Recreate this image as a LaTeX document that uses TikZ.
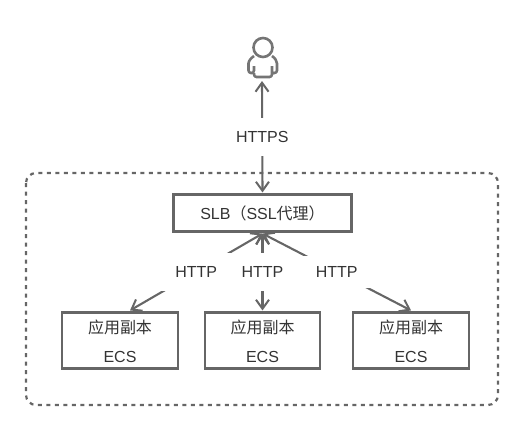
\documentclass[tikz,border=0pt]{standalone}
\usepackage{fontspec}
\setmainfont{Liberation Sans}
\newfontfamily\cjk{Noto Sans CJK SC}
\usetikzlibrary{arrows.meta,calc}
\definecolor{ln}{HTML}{666666}
\definecolor{tx}{HTML}{333333}
\tikzset{
  box/.style={draw=ln,line width=2.1pt,rectangle,inner sep=0pt,text=tx,font=\fontsize{16}{20}\selectfont,align=center},
  link/.style={draw=ln,line width=2.1pt,{Straight Barb[length=9pt,width=13pt,line width=2pt]}-{Straight Barb[length=9pt,width=13pt,line width=2pt]}},
  lbl/.style={fill=white,text=tx,font=\fontsize{16}{20}\selectfont,inner sep=0pt,minimum width=70pt,minimum height=38pt},
  frame/.style={draw=ln,line width=2.2pt,dash pattern=on 4pt off 4.5pt,rounded corners=10pt},
  cap1/.style={text=tx,font=\fontsize{16}{20}\selectfont\cjk},
  cap2/.style={text=tx,font=\fontsize{16}{20}\selectfont}
}
\begin{document}
\begin{tikzpicture}[x=1pt,y=-1pt]
\useasboundingbox (0,0) rectangle (520,426);
\draw[frame] (26,173) rectangle (498,405);
\node[box,minimum width=178pt,minimum height=37pt] (slb) at (262.5,213) {SLB{\cjk（}SSL{\cjk 代理）}};
\node[box,minimum width=116pt,minimum height=56pt] (e1) at (120,340.5) {};
\node[box,minimum width=115pt,minimum height=56pt] (e2) at (262.5,340.5) {};
\node[box,minimum width=116pt,minimum height=56pt] (e3) at (411,340.5) {};
\node[cap1] (t1a) at (120,327) {应用副本};
\node[cap2] (t1b) at (120,357) {ECS};
\node[cap1] (t2a) at (262.5,327) {应用副本};
\node[cap2] (t2b) at (262.5,357) {ECS};
\node[cap1] (t3a) at (411,327) {应用副本};
\node[cap2] (t3b) at (411,357) {ECS};
% user icon
\coordinate (user) at (262,81);
\draw[ln!90,line width=2.6pt] (263,47.5) circle (9.5pt);
\draw[ln!90,line width=2.6pt,line join=round,rounded corners=2.5pt]
  (254,56) .. controls (251,58) and (248.5,61) .. (248.5,66) -- (248.5,73) -- (254,73) -- (254,66)
  (254,73) -- (254,77) -- (272,77) -- (272,66) (272,73) -- (277,73) -- (277,66) .. controls (277,61) and (275,58) .. (272,56);
\draw[link] (user) -- node[lbl] {HTTPS} ($(slb.north)+(0,-1)$);
\draw[link] ($(slb.south)+(0,1)$) -- node[lbl] (h1) {HTTP} ($(e1.north)+(10,-1)$);
\draw[link] ($(slb.south)+(0,1)$) -- node[lbl] (h2) {HTTP} ($(e2.north)+(0,-1)$);
\draw[link] ($(slb.south)+(0,1)$) -- node[lbl,minimum height=32pt] (h3) {HTTP} ($(e3.north)+(0,-1)$);
\end{tikzpicture}
\end{document}
